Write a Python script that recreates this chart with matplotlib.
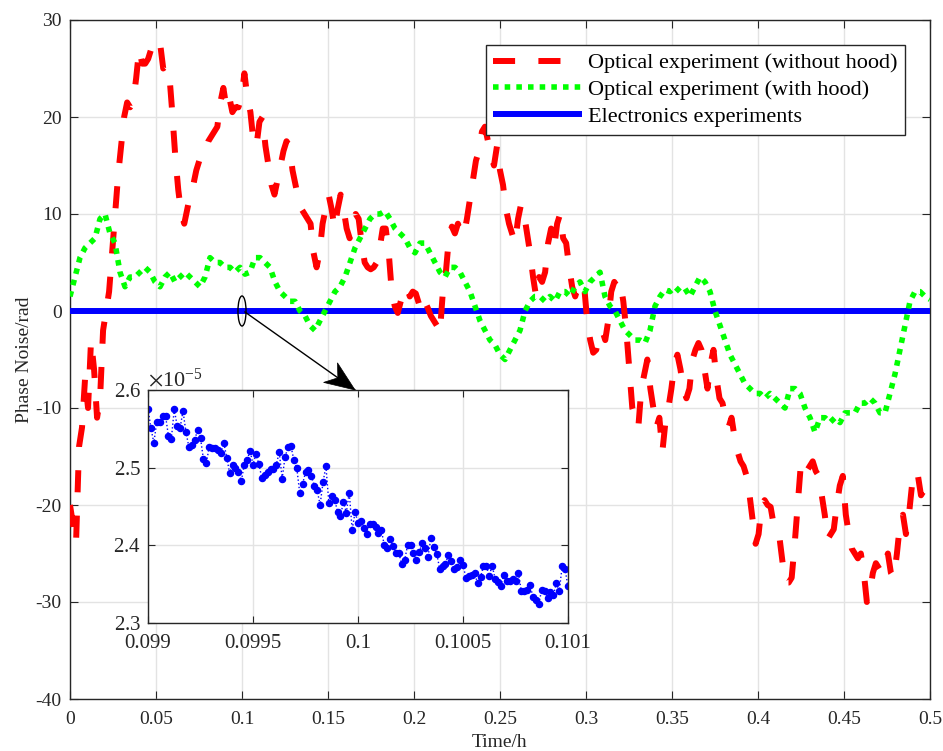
import numpy as np
import matplotlib
matplotlib.use('Agg')
import matplotlib.pyplot as plt
from matplotlib.patches import Ellipse, Polygon
from matplotlib.transforms import IdentityTransform
from matplotlib.ticker import ScalarFormatter

plt.rcParams['font.family'] = ['Liberation Serif', 'DejaVu Serif']
plt.rcParams['mathtext.fontset'] = 'stix'
plt.rcParams['axes.unicode_minus'] = False

# ---- data -------------------------------------------------------------
red_y = [-20, -22, -24, -14, -12, -7, -10, -3, -6, -11, -9, -2, 0, 2, 6, 10, 14, 17, 20, 21.5,
         21, 21.5, 24, 27, 25.5, 25.5, 26, 27, 28, 27.8, 27.5, 25, 25.3, 24.5, 20.5, 16, 12.5, 10, 9, 10.5,
         12, 13, 14.5, 15.5, 16.5, 16.5, 17.5, 18, 18.5, 19, 21.5, 23, 21, 22, 20.5, 21, 21, 22, 24.5, 22,
         20.5, 17.5, 17, 19.5, 20, 17, 15, 13, 12, 13.5, 15, 16.5, 17.5, 17, 14.5, 13, 11.5, 10.5, 10, 9.5,
         9, 6, 4.5, 6, 9, 10.5, 12, 10.5, 8.5, 10.5, 12, 10.5, 8.5, 7.5, 8.5, 10, 9.5, 7, 5, 4.5,
         4.3, 4.5, 5, 6.5, 8.5, 8.5, 6, 2, 0.5, -0.2, 1, 2, 2.5, 1.5, 2, 1.8, 0.8, 0, 1, 0.3,
         -0.5, -1, -1.5, -2.3, 2, 4, 7.5, 8.7, 8, 9, 8, 7.8, 9.5, 11.5, 13.5, 15.5, 16.5, 18.5, 19, 17.5,
         16, 15, 17, 14.5, 13, 10.5, 9, 8, 7, 9.5, 11, 10, 8, 6, 3.5, 1.5, 3.5, 3, 4, 7,
         8.5, 6.5, 9, 10, 7.5, 7, 4.5, 2.5, 1.5, 2.5, 2, 2.5, -1, -3, -4.3, -4, -2.5, -2, -3, -1,
         2, 3, 2.5, 3, 1, -2, -6, -10, -11, -12, -8, -6.5, -5, -8, -10, -12, -11, -14.5, -11.5, -10,
         -8, -5.5, -4.5, -6, -8, -9, -8, -5, -4, -3.3, -4, -6, -8, -5.5, -4, -7, -9, -9.5, -11, -12,
         -11, -13, -14.5, -15.5, -16, -17, -19, -21.5, -24, -23, -20, -19.5, -20, -20.2, -22, -23, -23.5, -26, -28, -28,
         -27.5, -24, -20, -16, -15.5, -16.5, -16, -15.5, -16.5, -17, -19, -21, -23.5, -23, -22.5, -20, -18, -17, -21, -23,
         -24.5, -25, -25.5, -25, -27, -30, -29, -27, -26, -26.5, -27, -26, -25, -27, -27.5, -25, -22, -21, -23, -21,
         -18, -16.5, -17, -19, -18.5, -19.5, -20.5]

green_y = [1.5, 3.5, 5.5, 6.5, 7, 7.5, 9.5, 10, 8, 7, 4, 2.5, 3.5, 3.5, 4, 4.5, 4, 3, 2.5, 3.5,
           4, 3, 3.5, 4, 3.5, 3, 2.5, 3.5, 5.5, 5, 5, 4.5, 4.5, 4, 4.5, 3.8, 4, 5.5, 5.5, 5,
           4.5, 3, 2, 1.5, 1, 1, 0, -0.5, -1.5, -2, -1, 0, 1, 2, 2.5, 3.5, 5, 6.5, 7.5, 8.5,
           9.5, 10, 10, 10.3, 9.5, 8.5, 8, 7.5, 6.5, 6, 7, 7, 6, 5, 4, 3.5, 4.5, 4.5, 4, 3,
           2, 0.5, -1, -2, -3, -3.5, -4.5, -5, -4, -3, -2, 0, 1, 1.5, 1.5, 1, 1.5, 1, 2, 2,
           1.5, 2.5, 3, 2, 3, 3.5, 4, 1.5, 0.5, 0, -1, -2, -2.5, -3, -3, -3.3, -2, 0.5, 1.5, 2.2,
           2, 2.5, 2, 2.3, 1.5, 2.5, 3.5, 3, 2, 0, -1.5, -3, -4.5, -5.5, -6.5, -7.5, -8, -8.5, -8.5, -9,
           -8.5, -9, -9.5, -10, -8, -8, -8.5, -10, -11, -12.5, -11, -11, -11.5, -11, -11.5, -10.5, -10.5, -10.5, -9.5, -9.5,
           -9, -9.5, -10.5, -10.5, -8.5, -6.5, -4, -1.5, 1, 2, 2, 1.5, 1.2]

elec_main_t = [0.0, 0.5]
elec_main_y = [2.6e-5, 2.3e-5]

# inset (values in units of 1e-5 rad), uniformly sampled 0.099 .. 0.101 h
inset_y = [2.576, 2.551, 2.532, 2.559, 2.559, 2.566, 2.567, 2.541, 2.537, 2.575,
           2.554, 2.551, 2.573, 2.546, 2.527, 2.529, 2.536, 2.548, 2.538, 2.511,
           2.506, 2.527, 2.525, 2.525, 2.523, 2.519, 2.532, 2.513, 2.493, 2.504,
           2.500, 2.495, 2.483, 2.504, 2.510, 2.522, 2.504, 2.517, 2.505, 2.487,
           2.491, 2.495, 2.498, 2.498, 2.504, 2.520, 2.486, 2.514, 2.526, 2.528,
           2.510, 2.500, 2.468, 2.479, 2.494, 2.497, 2.489, 2.477, 2.471, 2.452,
           2.481, 2.502, 2.455, 2.464, 2.459, 2.443, 2.438, 2.456, 2.442, 2.468,
           2.420, 2.443, 2.429, 2.431, 2.422, 2.415, 2.428, 2.428, 2.424, 2.416,
           2.420, 2.400, 2.397, 2.408, 2.399, 2.390, 2.390, 2.376, 2.381, 2.400,
           2.401, 2.390, 2.381, 2.391, 2.403, 2.396, 2.385, 2.410, 2.398, 2.389,
           2.370, 2.373, 2.376, 2.388, 2.380, 2.370, 2.372, 2.381, 2.375, 2.358,
           2.360, 2.362, 2.364, 2.351, 2.359, 2.373, 2.373, 2.361, 2.374, 2.357,
           2.353, 2.347, 2.362, 2.354, 2.354, 2.357, 2.354, 2.364, 2.341, 2.341,
           2.343, 2.349, 2.333, 2.330, 2.325, 2.343, 2.341, 2.332, 2.340, 2.336,
           2.351, 2.341, 2.373, 2.369, 2.347]

x_ticks = [0, 0.05, 0.1, 0.15, 0.2, 0.25, 0.3, 0.35, 0.4, 0.45, 0.5]
x_ticklabels = ['0', '0.05', '0.1', '0.15', '0.2', '0.25', '0.3', '0.35', '0.4', '0.45', '0.5']
y_ticks = [-40, -30, -20, -10, 0, 10, 20, 30]
inset_x_ticks = [0.099, 0.0995, 0.1, 0.1005, 0.101]
inset_x_ticklabels = ['0.099', '0.0995', '0.1', '0.1005', '0.101']
inset_y_ticks = [2.3e-5, 2.4e-5, 2.5e-5, 2.6e-5]

labels = ['Optical experiment (without hood)', 'Optical experiment (with hood)',
          'Electronics experiments']

red_t = np.linspace(0, 0.5, len(red_y))
green_t = np.linspace(0, 0.5, len(green_y))
inset_t = np.linspace(0.099, 0.101, len(inset_y))

# ---- figure -------------------------------------------------------------
W, H = 943, 751
fig = plt.figure(figsize=(W / 100, H / 100), dpi=100)
ax = fig.add_axes([70 / W, 52 / H, 860 / W, 679 / H])

dark = '#262626'
l_blue, = ax.plot(elec_main_t, elec_main_y, color='#0000ff', lw=4.3, zorder=3,
                  solid_capstyle='butt')
l_red, = ax.plot(red_t, red_y, color='#ff0000', lw=4.3, zorder=4,
                 dashes=(3.7, 3.9), dash_capstyle='butt')
l_green, = ax.plot(green_t, green_y, color='#00ff00', lw=4.0, zorder=5,
                   dashes=(1.0, 1.1), dash_capstyle='butt')

ax.set_xlim(0, 0.5)
ax.set_ylim(-40, 30)
ax.set_xticks(x_ticks)
ax.set_xticklabels(x_ticklabels)
ax.set_yticks(y_ticks)
ax.tick_params(direction='in', top=True, right=True, length=6, width=0.8,
               labelsize=14, colors=dark, pad=6)
ax.tick_params(axis='x', pad=9)
ax.grid(True, color='#e3e3e3', lw=1)
ax.set_axisbelow(True)
for s in ax.spines.values():
    s.set_color(dark)
    s.set_linewidth(1)
ax.set_xlabel('Time/h', fontsize=14, color=dark, labelpad=4)
ax.set_ylabel('Phase Noise/rad', fontsize=14, color=dark, labelpad=2)

leg = ax.legend([l_red, l_green, l_blue], labels, loc='upper right',
                bbox_to_anchor=(905 / W, 1 - 45 / H), bbox_transform=fig.transFigure,
                fontsize=16, handlelength=4.0, handletextpad=0.25, labelspacing=0.28,
                borderpad=0.35, borderaxespad=0, fancybox=False, framealpha=1,
                edgecolor=dark)
leg.get_frame().set_linewidth(1)
leg.set_zorder(10)

# ellipse + arrow
ax.add_patch(Ellipse((0.1, 0.0), width=0.0047, height=3.1, fill=False,
                     ec='k', lw=1, zorder=6))
arrow_tail = (0.1017, -0.1)
arrow_tip = (0.1657, -8.14)
fig.canvas.draw()
p0 = ax.transData.transform(arrow_tail)
p1 = ax.transData.transform(arrow_tip)
d = (p1 - p0) / np.hypot(*(p1 - p0))
n = np.array([-d[1], d[0]])
head_len, half_w, notch = 30.0, 12.0, 9.0
base = p1 - d * head_len
ax.plot([arrow_tail[0], arrow_tip[0]], [arrow_tail[1], arrow_tip[1]],
        color='k', lw=1, zorder=6)
head = Polygon([p1, base + n * half_w, p1 - d * (head_len - notch), base - n * half_w],
               closed=True, fc='k', ec='k', lw=0.5, transform=IdentityTransform(),
               zorder=7)
fig.add_artist(head)

# ---- inset ----------------------------------------------------------------
axi = fig.add_axes([148 / W, (H - 623) / H, 420 / W, 233 / H])
axi.set_zorder(8)
axi.plot(inset_t, np.array(inset_y) * 1e-5, color='#0000ff', lw=1,
         linestyle=':', marker='o', markersize=4.4)
axi.set_xlim(0.099, 0.101)
axi.set_ylim(2.3e-5, 2.6e-5)
axi.set_xticks(inset_x_ticks)
axi.set_xticklabels(inset_x_ticklabels)
axi.set_yticks(inset_y_ticks)
fmt = ScalarFormatter(useMathText=True)
fmt.set_powerlimits((0, 0))
axi.yaxis.set_major_formatter(fmt)
axi.yaxis.get_offset_text().set_fontsize(16)
axi.yaxis.get_offset_text().set_color(dark)
axi.tick_params(direction='in', top=True, right=True, length=5, width=0.8,
                labelsize=15, colors=dark, pad=5)
axi.tick_params(axis='x', pad=8)
axi.grid(True, color='#e3e3e3', lw=1)
axi.set_axisbelow(True)
for s in axi.spines.values():
    s.set_color(dark)
    s.set_linewidth(1)

fig.savefig('out.png', dpi=100)
